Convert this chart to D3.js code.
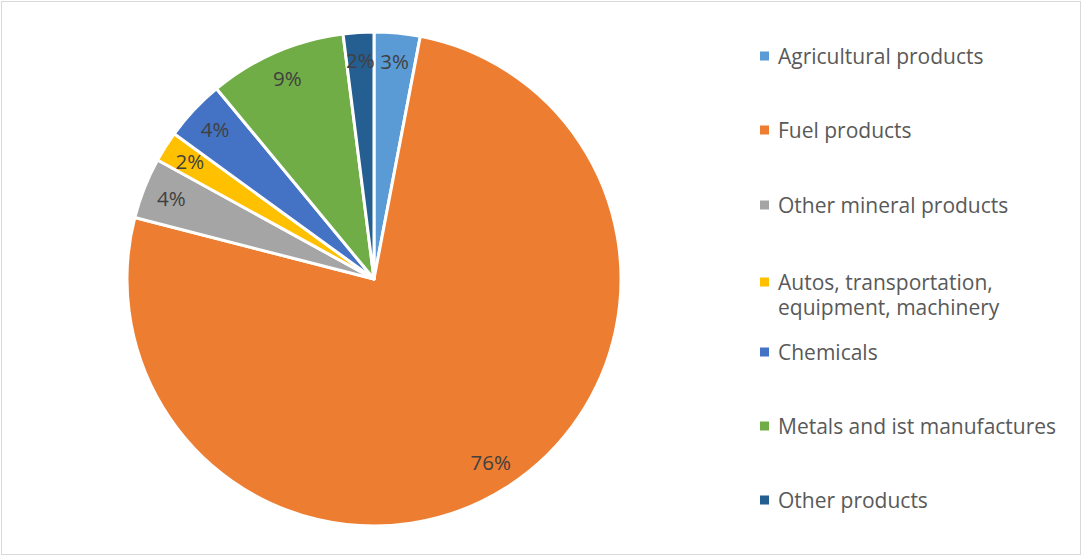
<!DOCTYPE html>
<html>
<head>
<meta charset="utf-8">
<script src="https://cdn.jsdelivr.net/npm/d3@7"></script>
<style>
  html, body { margin: 0; padding: 0; background: #fff; }
  svg { display: block; font-family: "Open Sans", Lato, sans-serif; }
</style>
</head>
<body>
<svg id="chart" width="1082" height="556"></svg>
<script>
// Export structure by product group, share in percent
const categories = [
  "Agricultural products",
  "Fuel products",
  "Other mineral products",
  "Autos, transportation, equipment, machinery",
  "Chemicals",
  "Metals and ist manufactures",
  "Other products"
];
const values = [3, 76, 4, 2, 4, 9, 2];
const valueLabels = ["3%", "76%", "4%", "2%", "4%", "9%", "2%"];
// Legend text, split into lines where it wraps
const legendLines = [
  ["Agricultural products"],
  ["Fuel products"],
  ["Other mineral products"],
  ["Autos, transportation,", "equipment, machinery"],
  ["Chemicals"],
  ["Metals and ist manufactures"],
  ["Other products"]
];
const colors = ["#5B9BD5", "#ED7D31", "#A5A5A5", "#FFC000", "#4472C4", "#70AD47", "#255E91"];

const svg = d3.select("#chart");
const W = 1082, H = 556;

// chart frame
svg.append("rect")
  .attr("x", 1.5).attr("y", 1.5)
  .attr("width", W - 3).attr("height", H - 3)
  .attr("fill", "#fff").attr("stroke", "#D9D9D9").attr("stroke-width", 1);

const cx = 374, cy = 279, R = 247, labelR = 218;

const color = d3.scaleOrdinal().domain(categories).range(colors);

const pie = d3.pie().sort(null).value(d => d.value);
const data = categories.map((c, i) => ({ name: c, value: values[i], label: valueLabels[i] }));
const arcs = pie(data);

const arc = d3.arc().innerRadius(0).outerRadius(R);
const labelArc = d3.arc().innerRadius(labelR).outerRadius(labelR);

const g = svg.append("g").attr("transform", `translate(${cx},${cy})`);

g.selectAll("path.slice")
  .data(arcs)
  .join("path")
  .attr("class", "slice")
  .attr("d", arc)
  .attr("fill", d => color(d.data.name))
  .attr("stroke", "#fff")
  .attr("stroke-width", 3)
  .attr("stroke-linejoin", "round");

g.selectAll("text.val")
  .data(arcs)
  .join("text")
  .attr("class", "val")
  .attr("transform", d => `translate(${labelArc.centroid(d)})`)
  .attr("text-anchor", "middle")
  .attr("dy", "0.33em")
  .attr("fill", "#404040")
  .attr("font-size", 20.5)
  .text(d => d.data.label);

// legend
const legendX = 760, squareSize = 9, textX = 778;
const rowY = [56, 130, 205, 282, 352, 426, 500];
const lineH = 25;

const lg = svg.append("g");
const items = lg.selectAll("g.item")
  .data(categories)
  .join("g")
  .attr("class", "item")
  .attr("transform", (d, i) => `translate(0,${rowY[i]})`);

items.append("rect")
  .attr("x", legendX).attr("y", -squareSize / 2)
  .attr("width", squareSize).attr("height", squareSize)
  .attr("fill", d => color(d));

// each wrapped line is its own text element
items.each(function (d, i) {
  d3.select(this).selectAll("text")
    .data(legendLines[i])
    .join("text")
    .attr("x", textX)
    .attr("y", (t, j) => j * lineH + 1)
    .attr("dy", "0.35em")
    .attr("fill", "#595959")
    .attr("font-size", 21)
    .text(t => t);
});
</script>
</body>
</html>
